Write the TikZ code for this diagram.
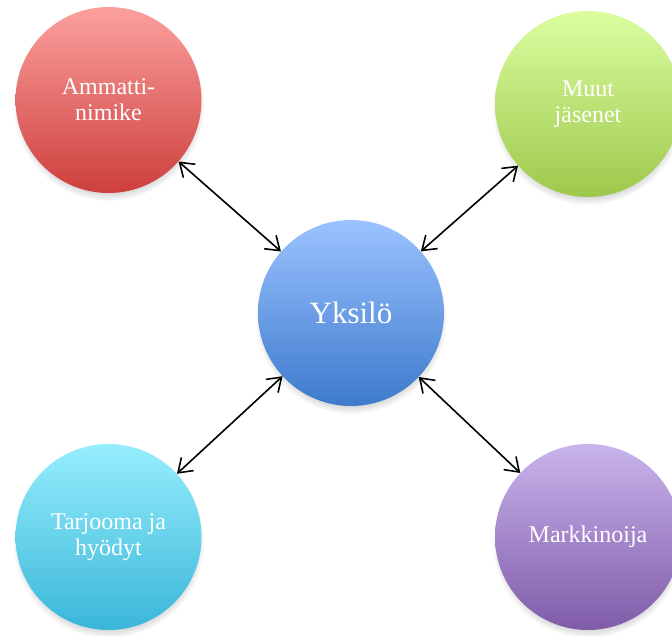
\documentclass[tikz,border=0pt]{standalone}
\usepackage{fontspec}
\setmainfont{Liberation Serif}
\usetikzlibrary{arrows.meta}
\usetikzlibrary{shadows}

\definecolor{punaylä}{RGB}{251,160,158}
\definecolor{punaala}{RGB}{205,63,60}
\definecolor{vihryla}{RGB}{219,253,160}
\definecolor{vihrala}{RGB}{158,200,76}
\definecolor{sinyla}{RGB}{155,194,255}
\definecolor{sinala}{RGB}{61,122,204}
\definecolor{turkyla}{RGB}{150,238,253}
\definecolor{turkala}{RGB}{58,182,217}
\definecolor{violyla}{RGB}{201,180,236}
\definecolor{violala}{RGB}{127,91,168}

\tikzset{
  pallo/.style={circle,minimum size=186pt,inner sep=0pt,align=center,text=white,
    font=\fontsize{24}{26}\selectfont,
    circular drop shadow={shadow xshift=0pt,shadow yshift=-5pt,shadow scale=1.03,opacity=0.5}},
  nuoli/.style={{Straight Barb[length=13pt,width=18pt]}-{Straight Barb[length=13pt,width=18pt]},line width=1.6pt}
}

\begin{document}
\begin{tikzpicture}[x=1pt,y=-1pt]
\useasboundingbox (0,0) rectangle (672,636);
\clip (0,0) rectangle (672,636);
% keskimmäinen pallo
\node[pallo,top color=sinyla,bottom color=sinala,font=\fontsize{31}{34}\selectfont] (yksilo) at (351,313) {Yksilö};
% kulmien pallot
\node[pallo,top color=punaylä,bottom color=punaala] (ammatti) at (108.5,100) {Ammatti-\\nimike};
\node[pallo,top color=vihryla,bottom color=vihrala] (muut) at (588,104) {Muut\\jäsenet};
\node[pallo,top color=turkyla,bottom color=turkala] (tarjooma) at (108.5,537) {Tarjooma ja\\hyödyt};
\node[pallo,top color=violyla,bottom color=violala] (markkinoija) at (588,537) {Markkinoija};
% nuolet
\draw[nuoli] (ammatti) -- (yksilo);
\draw[nuoli] (muut) -- (yksilo);
\draw[nuoli] (tarjooma) -- (yksilo);
\draw[nuoli] (markkinoija) -- (yksilo);
\end{tikzpicture}
\end{document}
